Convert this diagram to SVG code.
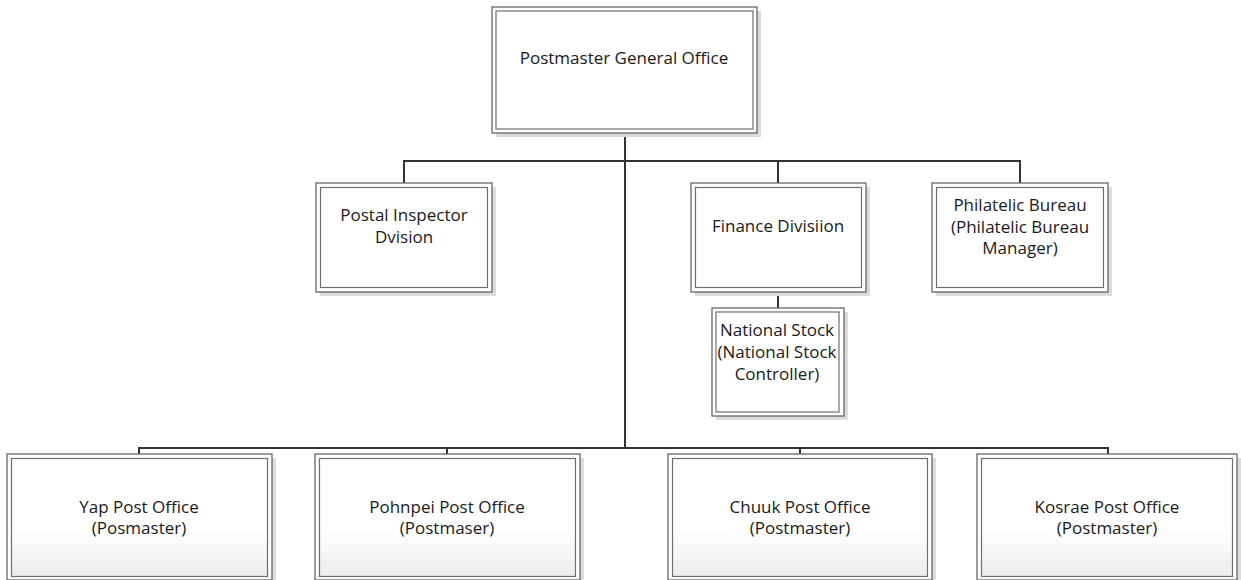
<svg xmlns="http://www.w3.org/2000/svg" width="1241" height="580" viewBox="0 0 1241 580">
<defs>
<linearGradient id="g" x1="0" y1="0" x2="0" y2="1">
<stop offset="0.6" stop-color="#ffffff"/>
<stop offset="1" stop-color="#ececec"/>
</linearGradient>
</defs>
<style>
.sh{fill:#dcdcdc}
.o{fill:#fff;stroke:#5a5a5a;stroke-width:1.2}
.i{fill:none;stroke:#6e6e6e;stroke-width:1.2}
.ig{fill:url(#g);stroke:#6e6e6e;stroke-width:1.2}
.c{fill:none;stroke:#333;stroke-width:2}
text{font-family:"Open Sans","Liberation Sans",sans-serif;font-size:17px;fill:#1a1a1a;text-anchor:middle}
</style>
<rect width="1241" height="580" fill="#fff"/>
<g id="connectors">
<path class="c" d="M625 133V448"/>
<path class="c" d="M404 183V161H1020V183"/>
<path class="c" d="M778 161V183"/>
<path class="c" d="M778 292V308"/>
<path class="c" d="M139 454V448H1108V454"/>
<path class="c" d="M447 448V454"/>
<path class="c" d="M800 448V454"/>
</g>
<g id="pmg">
<rect class="sh" x="496" y="11" width="265" height="126"/>
<rect class="o" x="492" y="7" width="265" height="126"/>
<rect class="i" x="496" y="11" width="257" height="118"/>
<text x="624" y="64">Postmaster General Office</text>
</g>
<g id="postal-inspector">
<rect class="sh" x="320" y="187" width="176" height="109"/>
<rect class="o" x="316" y="183" width="176" height="109"/>
<rect class="i" x="320.5" y="187.5" width="167" height="100"/>
<text x="404" y="221">Postal Inspector</text>
<text x="404" y="243">Dvision</text>
</g>
<g id="finance">
<rect class="sh" x="695" y="187" width="175" height="109"/>
<rect class="o" x="691" y="183" width="175" height="109"/>
<rect class="i" x="695.5" y="187.5" width="166" height="100"/>
<text x="778" y="232">Finance Divisiion</text>
</g>
<g id="philatelic">
<rect class="sh" x="936" y="187" width="176" height="109"/>
<rect class="o" x="932" y="183" width="176" height="109"/>
<rect class="i" x="936.5" y="187.5" width="167" height="100"/>
<text x="1020" y="211">Philatelic Bureau</text>
<text x="1020" y="233">(Philatelic Bureau</text>
<text x="1020" y="254">Manager)</text>
</g>
<g id="national-stock">
<rect class="sh" x="716" y="312" width="132" height="108"/>
<rect class="o" x="712" y="308" width="132" height="108"/>
<rect class="i" x="716" y="312" width="123" height="100"/>
<text x="777" y="336">National Stock</text>
<text x="777" y="358">(National Stock</text>
<text x="777" y="380">Controller)</text>
</g>
<g id="yap">
<rect class="sh" x="11" y="458" width="265" height="126"/>
<rect class="o" x="7" y="454" width="265" height="126"/>
<rect class="ig" x="11.5" y="458.5" width="256" height="118"/>
<text x="139" y="513">Yap Post Office</text>
<text x="139" y="534">(Posmaster)</text>
</g>
<g id="pohnpei">
<rect class="sh" x="319" y="458" width="265" height="126"/>
<rect class="o" x="315" y="454" width="265" height="126"/>
<rect class="ig" x="319.5" y="458.5" width="256" height="118"/>
<text x="447" y="513">Pohnpei Post Office</text>
<text x="447" y="534">(Postmaser)</text>
</g>
<g id="chuuk">
<rect class="sh" x="672" y="458" width="264" height="126"/>
<rect class="o" x="668" y="454" width="264" height="126"/>
<rect class="ig" x="672.5" y="458.5" width="255" height="118"/>
<text x="800" y="513">Chuuk Post Office</text>
<text x="800" y="534">(Postmaster)</text>
</g>
<g id="kosrae">
<rect class="sh" x="981" y="458" width="264" height="126"/>
<rect class="o" x="977" y="454" width="260" height="126"/>
<rect class="ig" x="981.5" y="458.5" width="251" height="118"/>
<text x="1107" y="513">Kosrae Post Office</text>
<text x="1107" y="534">(Postmaster)</text>
</g>
</svg>
